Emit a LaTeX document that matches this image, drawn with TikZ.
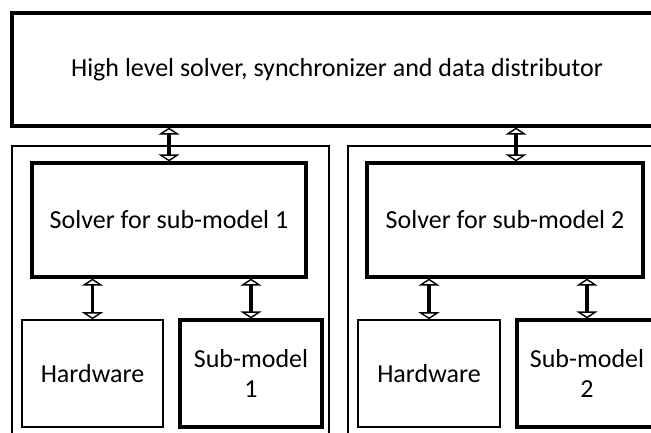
\documentclass[tikz,border=0pt]{standalone}
\usepackage{fontspec}
\setmainfont{Carlito}
\usetikzlibrary{arrows.meta}

\begin{document}
\begin{tikzpicture}
[
	x=1pt,
	y=-1pt,
	thinbox/.style={draw,line width=1.6pt,inner sep=0pt,align=center},
	thickbox/.style={draw,line width=3.2pt,inner sep=0pt,align=center},
	biarrow/.style={line width=3.4pt,
		{Triangle[open,width=21pt,length=7pt,line width=1.4pt]}-{Triangle[open,width=21pt,length=7pt,line width=1.4pt]}},
	font=\fontsize{26}{30}\selectfont
]

	% frame
	\useasboundingbox (0,0) rectangle (651,432);
	\clip (0,0) rectangle (651,432);

	% top level
	\node[thickbox,minimum width=650pt,minimum height=113pt] (top) at (337,69.5) {High level solver, synchronizer and data distributor};

	% containers
	\node[thinbox,minimum width=317pt,minimum height=324pt] (contA) at (170.5,308) {};
	\node[thinbox,minimum width=352pt,minimum height=324pt] (contB) at (524,308) {};

	% solvers
	\node[thickbox,minimum width=274pt,minimum height=114pt] (solA) at (169,220) {Solver for sub-model 1};
	\node[thickbox,minimum width=276pt,minimum height=114pt] (solB) at (505,220) {Solver for sub-model 2};

	% bottom row
	\node[thinbox,minimum width=141pt,minimum height=107pt] (hwA) at (92.5,373.5) {Hardware};
	\node[thickbox,minimum width=142pt,minimum height=107pt] (smA) at (251,373.5) {Sub-model\\1};
	\node[thinbox,minimum width=142pt,minimum height=107pt] (hwB) at (429,373.5) {Hardware};
	\node[thickbox,minimum width=140pt,minimum height=107pt] (smB) at (587,373.5) {Sub-model\\2};

	% arrows
	\coordinate (xb) at (516,0);
	\draw[biarrow] (top.south -| solA.north) -- (solA.north);
	\draw[biarrow] (top.south -| xb) -- (solB.north -| xb);
	\draw[biarrow] (solA.south -| hwA.north) -- (hwA.north);
	\draw[biarrow] (solA.south -| smA.north) -- (smA.north);
	\draw[biarrow] (solB.south -| hwB.north) -- (hwB.north);
	\draw[biarrow] (solB.south -| smB.north) -- (smB.north);

\end{tikzpicture}
\end{document}
